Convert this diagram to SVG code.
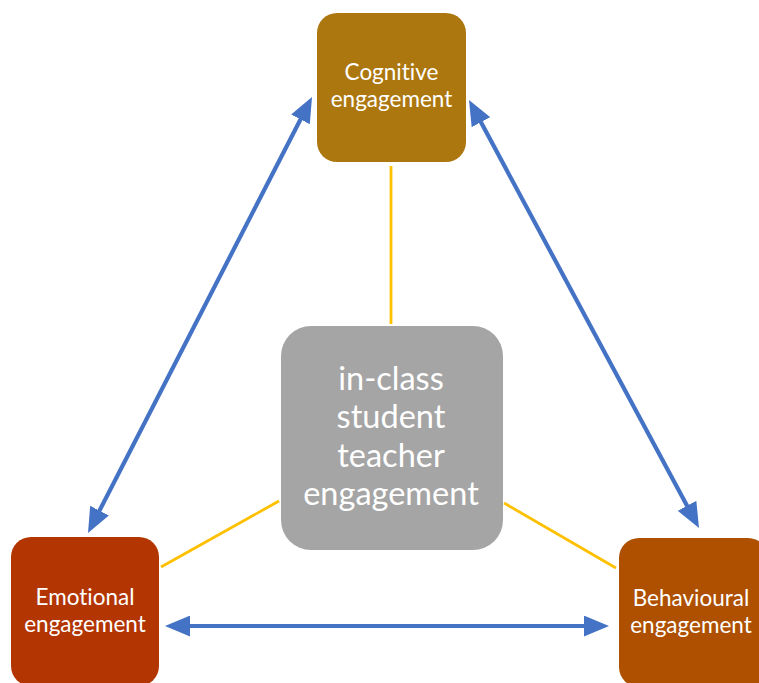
<svg xmlns="http://www.w3.org/2000/svg" width="759" height="683" viewBox="0 0 759 683">
<defs>
<marker id="ah" markerWidth="6" markerHeight="5" refX="3" refY="2.5" orient="auto-start-reverse" markerUnits="strokeWidth">
<path d="M0,0 L6,2.5 L0,5 z" fill="#4472C4"/>
</marker>
<style>
.lbl{font-family:Lato,"Open Sans","Liberation Sans",sans-serif;fill:#FFFFFF;text-anchor:middle;font-variant-ligatures:none;font-feature-settings:"liga" 0,"clig" 0}
.sm{font-size:22.5px}
.lg{font-size:32.5px}
.blue{stroke:#4472C4;stroke-width:4.2;fill:none;marker-start:url(#ah);marker-end:url(#ah)}
.yel{stroke:#FFC000;stroke-width:2.8;fill:none}
</style>
</defs>
<rect width="759" height="683" fill="#FFFFFF"/>
<g id="connectors">
<line class="yel" x1="391" y1="166" x2="391" y2="324"/>
<line class="yel" x1="161" y1="567" x2="279" y2="501"/>
<line class="yel" x1="504" y1="503" x2="616" y2="568"/>
<line class="blue" x1="306.24" y1="108.21" x2="93.76" y2="521.79"/>
<line class="blue" x1="474.96" y1="111.1" x2="693.04" y2="516.9"/>
<line class="blue" x1="177.6" y1="626" x2="596.4" y2="626"/>
</g>
<g id="cognitive">
<rect x="317" y="13" width="149" height="149" rx="20" fill="#AD7710"/>
<text class="lbl sm" x="391.5" y="80">Cognitive</text>
<text class="lbl sm" x="391.5" y="107">engagement</text>
</g>
<g id="center">
<rect x="281" y="326" width="222" height="224" rx="30" fill="#A5A5A5"/>
<text class="lbl lg" x="391" y="390">in-class</text>
<text class="lbl lg" x="391" y="428">student</text>
<text class="lbl lg" x="391" y="467">teacher</text>
<text class="lbl lg" x="391" y="505">engagement</text>
</g>
<g id="emotional">
<rect x="11" y="537" width="148" height="149" rx="20" fill="#B23502"/>
<text class="lbl sm" x="85" y="605">Emotional</text>
<text class="lbl sm" x="85" y="632">engagement</text>
</g>
<g id="behavioural">
<rect x="619" y="538" width="149" height="149" rx="20" fill="#AE5000"/>
<text class="lbl sm" x="691" y="606">Behavioural</text>
<text class="lbl sm" x="691" y="633">engagement</text>
</g>
</svg>
